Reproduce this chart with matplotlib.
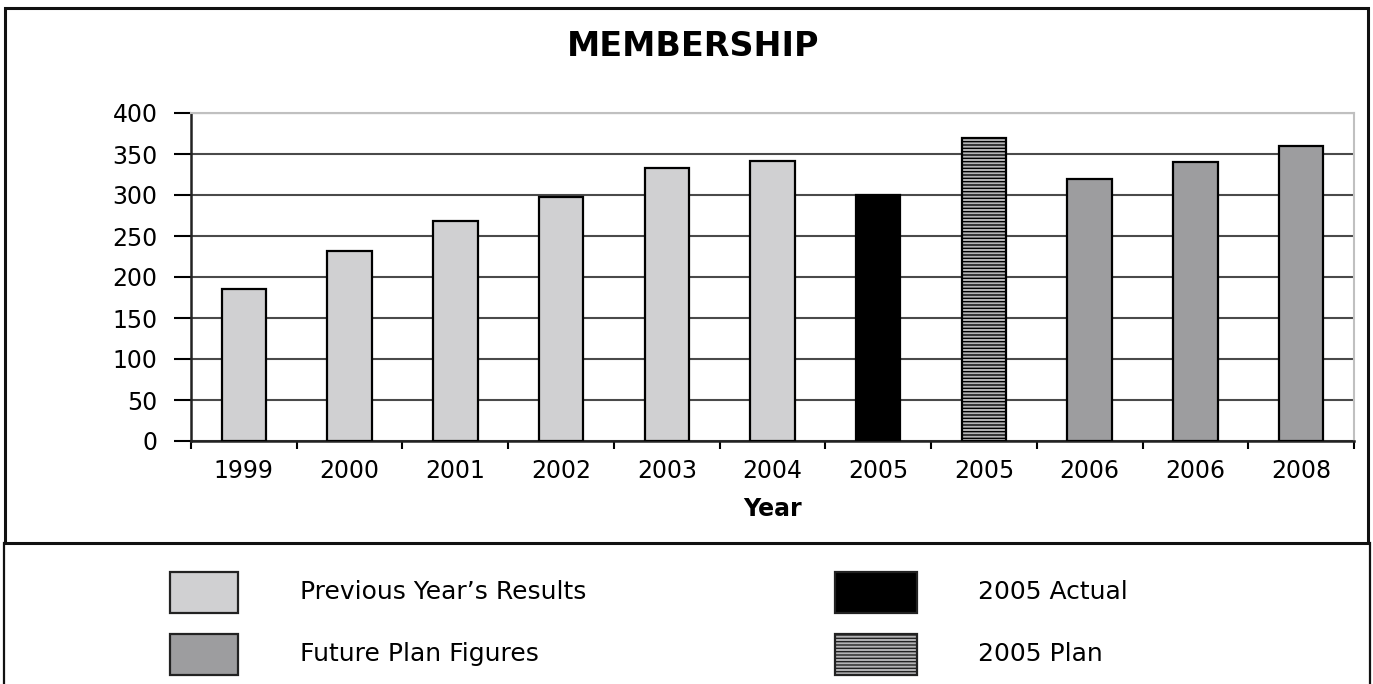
"""
MEMBERSHIP bar chart: previous years, 2005 actual vs plan, future plan figures.
"""
import matplotlib
matplotlib.use("Agg")
import matplotlib.pyplot as plt
from matplotlib.patches import Rectangle
from matplotlib.lines import Line2D

years = ["1999", "2000", "2001", "2002", "2003", "2004",
         "2005", "2005", "2006", "2006", "2008"]
members = [185, 232, 268, 298, 333, 341, 300, 370, 320, 340, 360]
groups = ["prev", "prev", "prev", "prev", "prev", "prev",
          "actual", "plan", "future", "future", "future"]
legend_labels = {
    "prev": "Previous Year\u2019s Results",
    "future": "Future Plan Figures",
    "actual": "2005 Actual",
    "plan": "2005 Plan",
}

styles = {
    "prev": dict(facecolor="#d0d0d2", hatch=None),
    "future": dict(facecolor="#9d9d9f", hatch=None),
    "actual": dict(facecolor="#000000", hatch=None),
    "plan": dict(facecolor="#b4b4b6", hatch="-----"),
}

plt.rcParams.update({
    "font.family": ["DejaVu Sans"],
    "hatch.color": "#6e6e70",
    "hatch.linewidth": 1.0,
})

W, H = 1373, 684
fig = plt.figure(figsize=(W / 100, H / 100), dpi=100)

def fx(px):
    return px / W

def fy(py):
    return 1 - py / H

ax = fig.add_axes([fx(191), fy(441), fx(1354) - fx(191), fy(113) - fy(441)])

x = list(range(len(years)))
for xi, v, g in zip(x, members, groups):
    st = styles[g]
    ax.bar(xi, v, width=0.42, color=st["facecolor"], hatch=st["hatch"],
           edgecolor="black", linewidth=1.6, zorder=3)

ax.set_xlim(-0.5, len(years) - 0.5)
ax.set_ylim(0, 400)
ax.set_yticks(range(0, 401, 50))
ax.set_xticks([i + 0.5 for i in range(-1, len(years))], minor=False)
ax.set_xticklabels([])
ax.set_xticks(x, minor=True)
ax.set_xticklabels(years, minor=True)
ax.tick_params(axis="x", which="major", length=6, width=1.5, direction="out")
ax.tick_params(axis="x", which="minor", length=0, pad=13, labelsize=17)
ax.tick_params(axis="y", length=12, width=1.5, pad=12, labelsize=17)
ax.yaxis.grid(True, color="#4a4a4a", linewidth=1.5, zorder=0)
ax.set_axisbelow(True)

for s in ["left", "bottom"]:
    ax.spines[s].set_color("#222222")
    ax.spines[s].set_linewidth(1.8)
for s in ["top", "right"]:
    ax.spines[s].set_color("#c0c0c0")
    ax.spines[s].set_linewidth(1.5)

ax.set_xlabel("Year", fontsize=17, fontweight="bold", labelpad=10)
fig.text(fx(693), fy(46), "MEMBERSHIP", ha="center", va="center",
         fontsize=24, fontweight="bold")

# frame around chart and legend area
fig.add_artist(Rectangle((fx(5), fy(543)), fx(1368) - fx(5), fy(8) - fy(543),
                         transform=fig.transFigure, fill=False,
                         edgecolor="#111111", linewidth=2.2))
fig.add_artist(Line2D([fx(4), fx(4)], [fy(543), 0], transform=fig.transFigure,
                      color="#111111", linewidth=1.6))
fig.add_artist(Line2D([fx(1370), fx(1370)], [fy(543), 0], transform=fig.transFigure,
                      color="#111111", linewidth=1.6))

# legend area: (box left, box top, box width, text left)
legend_pos = {
    "prev": (170, 572, 68, 300),
    "future": (170, 634, 68, 300),
    "actual": (835, 572, 82, 978),
    "plan": (835, 634, 82, 978),
}
for g, (bx, by, bw, tx) in legend_pos.items():
    st = styles[g]
    fig.add_artist(Rectangle((fx(bx), fy(by + 41)), fx(bx + bw) - fx(bx),
                             fy(by) - fy(by + 41), transform=fig.transFigure,
                             facecolor=st["facecolor"], hatch=st["hatch"],
                             edgecolor="#222222", linewidth=1.6))
    fig.text(fx(tx), fy(by + 20), legend_labels[g], ha="left", va="center",
             fontsize=18)

fig.savefig("out.png", dpi=100)
